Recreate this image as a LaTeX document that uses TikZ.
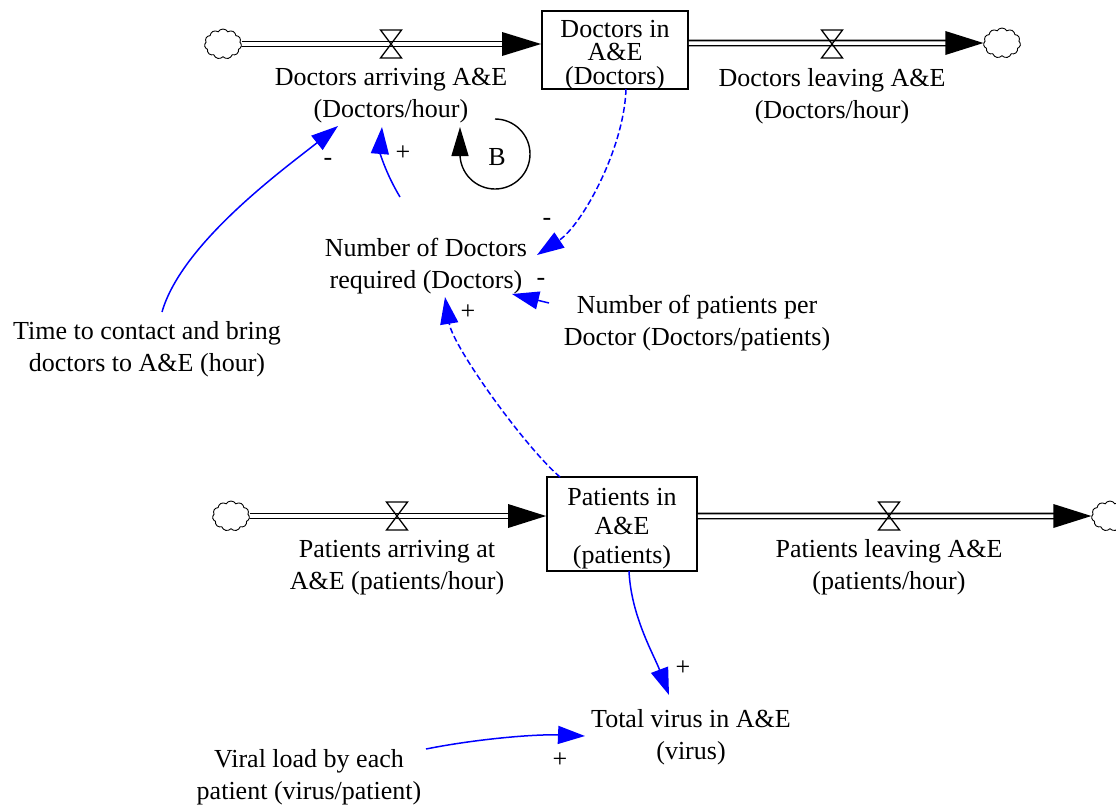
\documentclass[tikz,border=0pt]{standalone}
\usepackage{fontspec}
\setmainfont{Liberation Serif}
\usetikzlibrary{arrows.meta,shapes.symbols}
\begin{document}
\begin{tikzpicture}[x=1pt,y=-1pt,
  every node/.style={font=\fontsize{26}{32}\selectfont, inner sep=0pt},
  var/.style={align=center},
  stockbox/.style={draw, line width=1.8pt},
  stocktext/.style={align=center},
  cloudy/.style={cloud, cloud puffs=11, cloud puff arc=120, aspect=1.25, draw, line width=0.9pt, minimum width=37pt, minimum height=30pt, inner sep=0pt},
  pipe/.style={draw=black, double=white, double distance=3.5pt, line width=1.7pt},
  pipehead/.style={fill=black},
  valve/.style={line width=1.3pt, line join=miter},
  link/.style={draw={rgb,255:red,0;green,0;blue,255}, line width=1.5pt, -{Triangle[length=27pt,width=18pt]}},
  dlink/.style={link, dash pattern=on 6pt off 3pt},
  loopline/.style={line width=1.4pt, -{Triangle[length=29pt,width=17pt]}}
]
\useasboundingbox (0,0) rectangle (1116,806);

% stocks
\node[stockbox, minimum width=146pt, minimum height=78pt] (DS) at (615,50) {};
\node[stocktext, font=\fontsize{26}{23.5}\selectfont] (DSt) at (615,55) {Doctors in\\A\&E\\(Doctors)};
\node[stockbox, minimum width=150pt, minimum height=94pt] (PS) at (622,524) {};
\node[stocktext, font=\fontsize{26}{29}\selectfont] (PSt) at (622,529) {Patients in\\A\&E\\(patients)};

% clouds
\node[cloudy] (C1) at (223,44) {};
\node[cloudy] (C2) at (1002,43) {};
\node[cloudy] (C3) at (231,516) {};
\node[cloudy] (C4) at (1110,516) {};

% pipes
\draw[pipe] (C1.east) -- ([xshift=-36pt]C1 -| DS.west);
\fill[pipehead] (C1 -| DS.west) -- ++(-39,-12) -- ++(0,24) -- cycle;
\draw[pipe] (C2 -| DS.east) -- ([xshift=-36pt]C2.west);
\fill[pipehead] (C2.west) -- ++(-38,-12) -- ++(0,24) -- cycle;
\draw[pipe] (C3.east) -- ([xshift=-36pt]C3 -| PS.west);
\fill[pipehead] (C3 -| PS.west) -- ++(-38,-12) -- ++(0,24) -- cycle;
\draw[pipe] (C4 -| PS.east) -- ([xshift=-36pt]C4.west);
\fill[pipehead] (C4.west) -- ++(-38,-12) -- ++(0,24) -- cycle;

% valves
\coordinate (V1) at (391,44);
\coordinate (V2) at (832,44);
\coordinate (V3) at (397,516);
\coordinate (V4) at (889,516);
\foreach \v in {V1,V2,V3,V4}
  \draw[valve] (\v) +(-10.5,-14) -- +(10.5,-14) -- +(-10.5,14) -- +(10.5,14) -- cycle;

% flow and auxiliary labels
\node[var] (DArr) at (391,96) {Doctors arriving A\&E\\(Doctors/hour)};
\node[var] (DLeave) at (832,96) {Doctors leaving A\&E\\(Doctors/hour)};
\node[var] (PArr) at (397,568) {Patients arriving at\\A\&E (patients/hour)};
\node[var] (PLeave) at (889,567) {Patients leaving A\&E\\(patients/hour)};
\node[var] (NDR) at (426,266) {Number of Doctors\\required (Doctors)};
\node[var] (NPD) at (697,323) {Number of patients per\\Doctor (Doctors/patients)};
\node[var] (TC) at (147,349) {Time to contact and bring\\doctors to A\&E (hour)};
\node[var] (TV) at (691,737) {Total virus in A\&E\\(virus)};
\node[var] (VL) at (309,777) {Viral load by each\\patient (virus/patient)};

% links
\draw[link] ([shift={(15,-37)}]TC.center) .. controls +(20,-70) and +(-50,40) .. ([shift={(-53,30)}]DArr.center);
\draw[link] ([shift={(-26,-69)}]NDR.center) .. controls +(-15,-25) and +(-2,25) .. ([shift={(-9,31)}]DArr.center);
\draw[dlink] ([shift={(11,39)}]DS.center) .. controls +(-2,60) and +(45,-30) .. ([shift={(111,-11)}]NDR.center);
\draw[link] ([shift={(-148,-20)}]NPD.center) -- ([shift={(86,28)}]NDR.center);
\draw[dlink] ([shift={(-62,-47)}]PS.center) .. controls +(-35,-30) and +(8,50) .. ([shift={(19,31)}]NDR.center);
\draw[link] ([shift={(7,47)}]PS.center) .. controls +(2,45) and +(-15,-40) .. ([shift={(-22,-42)}]TV.center);
\draw[link] ([shift={(117,-28)}]VL.center) .. controls +(50,-10) and +(-50,-2) .. ([shift={(-106,-1)}]TV.center);

% polarities
\node (P1) at (328,162) {-};
\node (P2) at (403,153) {+};
\node (P3) at (547,222) {-};
\node (P4) at (541,282) {-};
\node (P5) at (468,312) {+};
\node (P6) at (683,668) {+};
\node (P7) at (560,760) {+};

% loop
\coordinate (Bc) at (495,154);
\node (B) at (497,157) {B};
\draw[loopline] ([shift={(0,-35)}]Bc) arc[start angle=-90, end angle=180, radius=35] -- ++(0,-27);
\end{tikzpicture}
\end{document}
